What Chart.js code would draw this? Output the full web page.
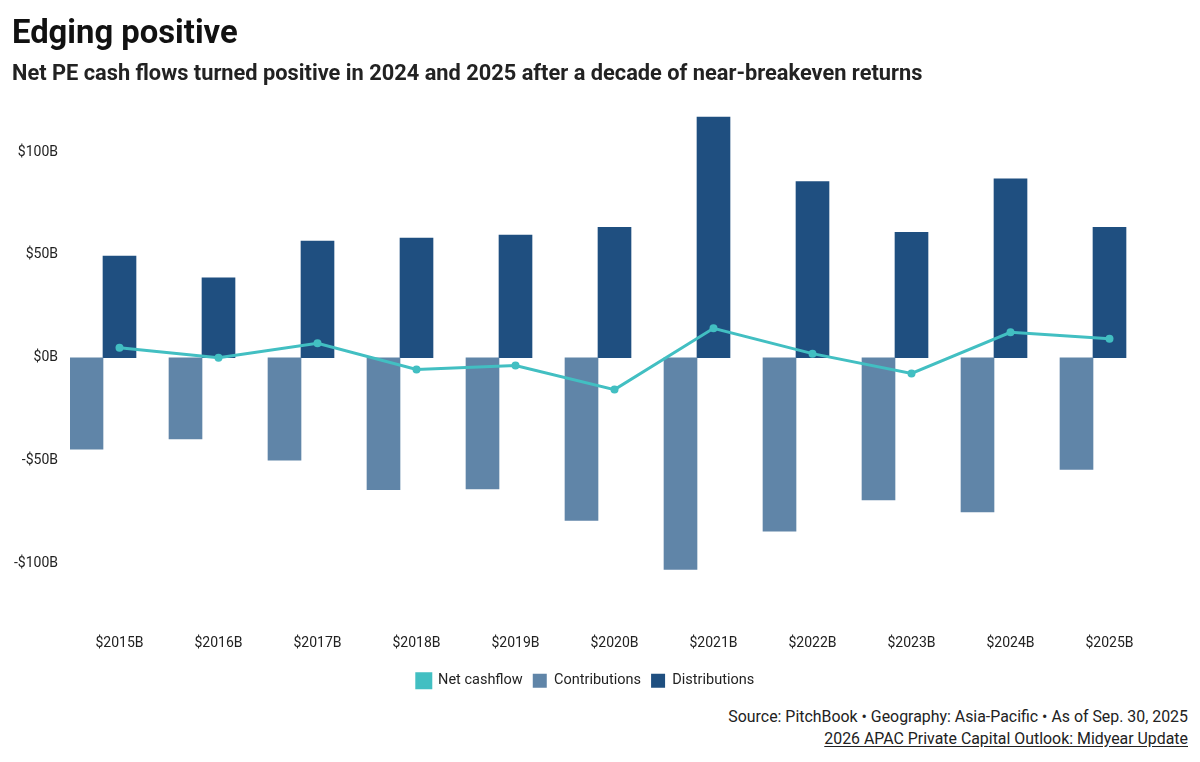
<!DOCTYPE html>
<html>
<head>
<meta charset="utf-8">
<script src="https://cdn.jsdelivr.net/npm/chart.js@4"></script>
<style>
  body { margin: 0; background: #fff; font-family: Roboto, sans-serif; }
  .title { position: absolute; left: 12px; top: 16px; font-size: 32.8px; line-height: 1; font-weight: 700; color: #111; }
  .subtitle { position: absolute; left: 12px; top: 62px; font-size: 21.8px; line-height: 1; font-weight: 700; color: #222; }
  .wrap { position: absolute; left: 0; top: 0; width: 1200px; height: 698px; }
  .source { position: absolute; right: 12px; top: 706px; text-align: right; color: #222; font-size: 15.9px; line-height: 22px; }
  .source u { text-underline-offset: 2px; }
</style>
</head>
<body>
<div class="wrap"><canvas id="chart"></canvas></div>
<div class="title">Edging positive</div>
<div class="subtitle">Net PE cash flows turned positive in 2024 and 2025 after a decade of near-breakeven returns</div>
<div class="source">Source: PitchBook • Geography: Asia-Pacific • As of Sep. 30, 2025<br><u>2026 APAC Private Capital Outlook: Midyear Update</u></div>
<script>
// values in $B
const years = ['2015', '2016', '2017', '2018', '2019', '2020', '2021', '2022', '2023', '2024', '2025'];
const contributions = [-44.4, -39.5, -49.8, -64.1, -63.8, -79.1, -103, -84.3, -69.1, -75, -54.3];
const distributions = [49.4, 38.9, 56.7, 58.2, 59.7, 63.4, 117, 85.7, 61, 87, 63.4];
const netCashflow = [4.9, 0, 7, -5.7, -3.8, -15.5, 14.3, 2, -7.6, 12.4, 9.2];
const yTicks = [-100, -50, 0, 50, 100];

const teal = '#42bfc2';
const lightBlue = '#6085a8';
const navy = '#1f4f80';
const noGrid = { display: false, drawTicks: false, tickLength: 0 };

new Chart(document.getElementById('chart'), {
    data: {
        labels: years.map(y => '$' + y + 'B'),
        datasets: [
            {
                type: 'line', label: 'Net cashflow', data: netCashflow, order: 0,
                borderColor: teal, backgroundColor: teal, borderWidth: 3,
                pointRadius: 4, pointBackgroundColor: teal, pointBorderWidth: 0, tension: 0
            },
            { type: 'bar', label: 'Contributions', data: contributions, backgroundColor: lightBlue, order: 1 },
            { type: 'bar', label: 'Distributions', data: distributions, backgroundColor: navy, order: 1 },
            // empty third slot so the bar pair sits left of the category centre, like the original
            { type: 'bar', label: '', data: years.map(() => null), order: 1 }
        ]
    },
    options: {
        responsive: true,
        maintainAspectRatio: false,
        animation: false,
        layout: { padding: { top: 111, right: 41, left: 12, bottom: 0 } },
        datasets: { bar: { categoryPercentage: 1, barPercentage: 1 } },
        scales: {
            x: {
                grid: noGrid,
                border: { display: false },
                afterFit: s => { s.height = 59; },
                ticks: { color: '#222', font: { family: 'Roboto', size: 14 }, padding: 31, maxRotation: 0 }
            },
            y: {
                min: -120, max: 120,
                grid: noGrid,
                border: { display: false },
                afterBuildTicks: s => { s.ticks = yTicks.map(v => ({ value: v })); },
                afterFit: s => { s.width = 58; },
                ticks: {
                    color: '#222', padding: 12, font: { family: 'Roboto', size: 14 },
                    callback: v => (v < 0 ? '-$' + Math.abs(v) : '$' + v) + 'B'
                }
            }
        },
        plugins: {
            legend: {
                position: 'bottom',
                labels: {
                    color: '#222', font: { family: 'Roboto', size: 14.5 },
                    boxWidth: 14, boxHeight: 14, padding: 10,
                    filter: item => item.text !== ''
                }
            },
            tooltip: { enabled: false }
        }
    }
});
</script>
</body>
</html>
